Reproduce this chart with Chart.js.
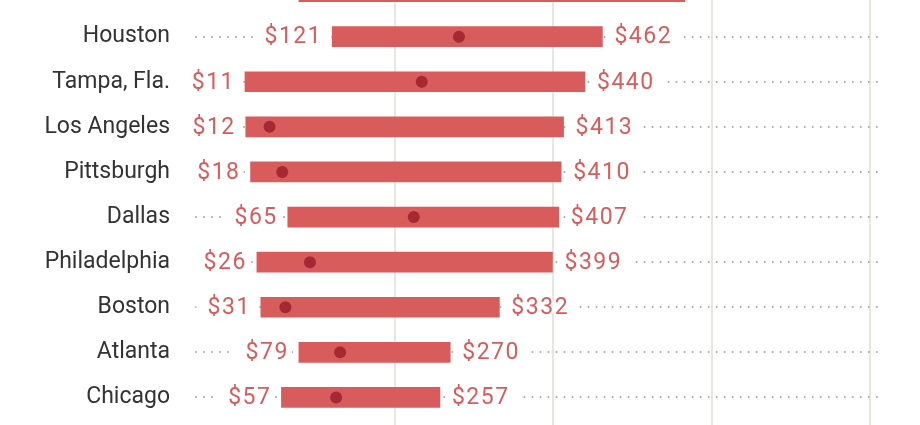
<!DOCTYPE html>
<html>
<head>
<meta charset="utf-8">
<title>Price range by city</title>
<script src="https://cdn.jsdelivr.net/npm/chart.js@4.4.1/dist/chart.umd.min.js"></script>
<style>
  html, body { margin: 0; padding: 0; background: #fff; overflow: hidden; }
  #frame { position: relative; width: 920px; height: 425px; overflow: hidden; }
  /* the top row is partly cut off in the original, so the chart starts above the frame */
  #wrap { position: absolute; left: 0; top: -37px; width: 920px; height: 465px; }
</style>
</head>
<body>
<div id="frame"><div id="wrap"><canvas id="chart"></canvas></div></div>
<script>
// data
const cities = ['San Francisco', 'Houston', 'Tampa, Fla.', 'Los Angeles', 'Pittsburgh',
                'Dallas', 'Philadelphia', 'Boston', 'Atlanta', 'Chicago'];
const lows    = [79, 121, 11, 12, 18, 65, 26, 31, 79, 57];
const highs   = [566, 462, 440, 413, 410, 407, 399, 332, 270, 257];
const medians = [250, 281, 234, 42, 58, 224, 93, 62, 131, 126];
const gridValues = [200, 400, 600, 800];

const FONT = 'Roboto, "Liberation Sans", sans-serif';
const BAR_RED = '#d95c5c';
const DOT_RED = '#a52833';

// dotted guide line across each row, behind the bars
const rowGuides = {
    id: 'rowGuides',
    beforeDatasetsDraw(chart) {
        const { ctx, chartArea, scales: { y } } = chart;
        ctx.save();
        ctx.strokeStyle = '#a9a9a9';
        ctx.lineWidth = 2;
        ctx.lineCap = 'round';
        ctx.setLineDash([0.01, 8]);
        cities.forEach((c, i) => {
            const yy = Math.round(y.getPixelForValue(i));
            ctx.beginPath();
            ctx.moveTo(chartArea.left + 3, yy);
            ctx.lineTo(chartArea.right, yy);
            ctx.stroke();
        });
        ctx.restore();
    }
};

// $ labels at both ends of each bar, with a white patch so the dots stop around them
const endLabels = {
    id: 'endLabels',
    afterDatasetsDraw(chart) {
        const { ctx, scales: { x, y } } = chart;
        ctx.save();
        ctx.font = '23px ' + FONT;
        ctx.letterSpacing = '1.5px';
        ctx.textBaseline = 'middle';
        cities.forEach((c, i) => {
            const yy = y.getPixelForValue(i);
            const xl = x.getPixelForValue(lows[i]);
            const xr = x.getPixelForValue(highs[i]);
            const lt = '$' + lows[i];
            const rt = '$' + highs[i];
            const lw = ctx.measureText(lt).width;
            const rw = ctx.measureText(rt).width;

            ctx.fillStyle = '#fff';
            ctx.fillRect(xl - 12 - lw - 9, yy - 6, lw + 9 + 5, 12);
            ctx.fillRect(xr + 7, yy - 6, rw + 5 + 9, 12);

            ctx.fillStyle = BAR_RED;
            ctx.textAlign = 'right';
            ctx.fillText(lt, xl - 10, yy + 1);
            ctx.textAlign = 'left';
            ctx.fillText(rt, xr + 12, yy + 1);
        });
        ctx.restore();
    }
};

const ctx = document.getElementById('chart').getContext('2d');
new Chart(ctx, {
    type: 'bar',
    data: {
        labels: cities,
        datasets: [
            {
                type: 'line',
                indexAxis: 'y',
                data: medians.map((m, i) => ({ x: m, y: cities[i] })),
                showLine: false,
                pointRadius: 6,
                pointBackgroundColor: DOT_RED,
                pointBorderWidth: 0
            },
            {
                data: cities.map((c, i) => [lows[i], highs[i]]),
                backgroundColor: BAR_RED,
                borderWidth: 0,
                barThickness: 20
            }
        ]
    },
    options: {
        indexAxis: 'y',
        responsive: true,
        maintainAspectRatio: false,
        animation: false,
        layout: { padding: { right: 40 } },
        plugins: {
            legend: { display: false },
            tooltip: { enabled: false }
        },
        scales: {
            x: {
                type: 'linear',
                position: 'bottom',
                min: -54.6,
                max: 812.3,
                afterBuildTicks(scale) {
                    scale.ticks = gridValues.map(v => ({ value: v }));
                },
                grid: {
                    color: '#e8e6e1',
                    lineWidth: 2,
                    drawTicks: true,
                    tickLength: 8
                },
                border: { display: false },
                ticks: { display: false }
            },
            y: {
                type: 'category',
                offset: true,
                afterFit(scale) {
                    scale.width = 193;
                    // tick padding would otherwise also pad the top and bottom of the plot
                    scale.paddingTop = 0;
                    scale.paddingBottom = 0;
                },
                grid: { display: false, drawTicks: false },
                border: { display: false },
                ticks: {
                    color: '#333',
                    padding: 23,
                    font: { family: FONT, size: 23 }
                }
            }
        }
    },
    plugins: [rowGuides, endLabels]
});
</script>
</body>
</html>
